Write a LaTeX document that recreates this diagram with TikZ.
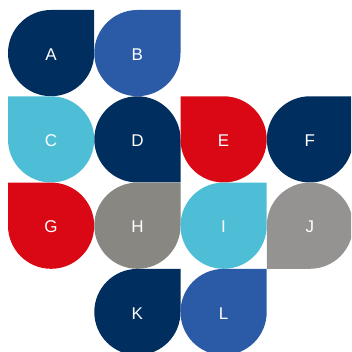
\documentclass[tikz,border=0pt]{standalone}
\usepackage{fontspec}
\setmainfont{Liberation Sans}
\definecolor{navyBlue}{RGB}{0,46,95}
\definecolor{royalBlue}{RGB}{43,90,166}
\definecolor{skyBlue}{RGB}{78,190,214}
\definecolor{signalRed}{RGB}{218,8,20}
\definecolor{warmGray}{RGB}{137,135,130}
\definecolor{coolGray}{RGB}{148,147,146}
\tikzset{
  drop/.style={fill=#1, draw=none},
  tag/.style={text=white, font=\fontsize{17}{17}\selectfont, inner sep=0pt}
}
% #1 centre, #2 turn of the sharp corner, #3 colour, #4 name, #5 letter
\newcommand{\petal}[5]{%
  \begin{scope}[shift={(#1)}, rotate=#2]
    \path[drop=#3] (0,43.1) -- (43.1,43.1) -- (43.1,0)
      arc[start angle=0, end angle=-270, radius=43.1] -- cycle;
  \end{scope}
  \node[tag] (#4) at ([yshift=-1.2]#1) {#5};
}

\begin{document}
\begin{tikzpicture}[x=1pt,y=1pt]
  \clip (0,0) rectangle (351,352);
  \fill[white] (0,0) rectangle (351,352);

  \petal{51.1,298.9}{0}{navyBlue}{a}{A}
  \petal{137.4,298.9}{0}{royalBlue}{b}{B}

  \petal{51.1,212.6}{90}{skyBlue}{c}{C}
  \petal{137.4,212.6}{270}{navyBlue}{d}{D}
  \petal{223.6,212.6}{90}{signalRed}{e}{E}
  \petal{309.9,212.6}{0}{navyBlue}{f}{F}

  \petal{51.1,126.3}{90}{signalRed}{g}{G}
  \petal{137.4,126.3}{0}{warmGray}{h}{H}
  \petal{223.6,126.3}{0}{skyBlue}{i}{I}
  \petal{309.9,126.3}{180}{coolGray}{j}{J}

  \petal{137.4,40}{0}{navyBlue}{k}{K}
  \petal{223.6,40}{0}{royalBlue}{l}{L}
\end{tikzpicture}
\end{document}
